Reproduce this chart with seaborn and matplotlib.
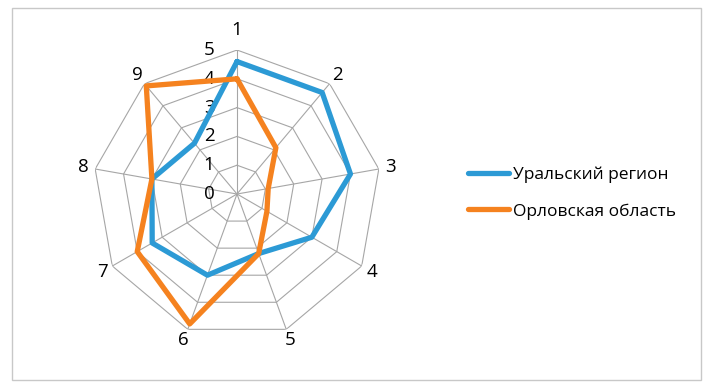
import numpy as np
import matplotlib
matplotlib.use("Agg")
import matplotlib.pyplot as plt
import matplotlib.transforms as mtransforms
from matplotlib.patches import Rectangle
import seaborn as sns

axes_labels = ["1", "2", "3", "4", "5", "6", "7", "8", "9"]
ural = [4.6, 4.6, 4.0, 3.0, 2.2, 3.0, 3.4, 3.0, 2.3]
orel = [4.0, 2.1, 1.1, 1.2, 2.2, 4.8, 4.0, 3.0, 4.9]
rings = [0, 1, 2, 3, 4, 5]
series_names = ["Уральский регион", "Орловская область"]
colors = ["#2C9AD5", "#F5821F"]

sns.set_style("white")
plt.rcParams["font.family"] = ["Open Sans", "DejaVu Sans"]
plt.rcParams["text.color"] = "black"

fig = plt.figure(figsize=(7.13, 3.91), dpi=100)
fig.patches.append(Rectangle((0.017, 0.028), 0.966, 0.952, transform=fig.transFigure,
                             fill=False, edgecolor="#c8c8c8", linewidth=1))

ax = fig.add_axes([0.1304, 0.1355, 0.404, 0.7366], projection="polar")
ax.set_theta_zero_location("N")
ax.set_theta_direction(-1)
ax.set_ylim(0, 5)
ax.grid(False)
ax.spines["polar"].set_visible(False)
ax.set_xticks([])
ax.set_yticks([])
ax.set_facecolor("none")

n = len(axes_labels)
theta = np.linspace(0, 2 * np.pi, n, endpoint=False)
theta_closed = np.append(theta, 2 * np.pi)

# polygon grid
for r in rings[1:]:
    ax.plot(theta_closed, [r] * (n + 1), color="#a6a6a6", lw=0.8, zorder=1)
for t in theta:
    ax.plot([t, t], [0, 5], color="#a6a6a6", lw=0.8, zorder=1)

# series
for vals, name, c in zip([ural, orel], series_names, colors):
    v = np.append(vals, vals[0])
    sns.lineplot(x=theta_closed, y=v, sort=False, estimator=None, ax=ax, color=c,
                 lw=3.8, zorder=3, legend=False)

# radial tick labels
off = mtransforms.offset_copy(ax.transData, fig=fig, x=-28, y=0, units="dots")
for r in rings:
    ax.text(0, r, str(r), transform=off, ha="center", va="center", fontsize=13.5, zorder=2)

# category labels
for t, lab in zip(theta, axes_labels):
    rr = 5.7 if lab == "1" else 5.4
    ax.text(t, rr, lab, ha="center", va="center", fontsize=13.5)

handles = ax.get_lines()[-2:]
fig.legend(handles, series_names, loc="center left", bbox_to_anchor=(0.634, 0.506),
           frameon=False, fontsize=12.5, handlelength=2.4, labelspacing=1.15,
           handletextpad=0.2)

fig.savefig("out.png", dpi=100)
